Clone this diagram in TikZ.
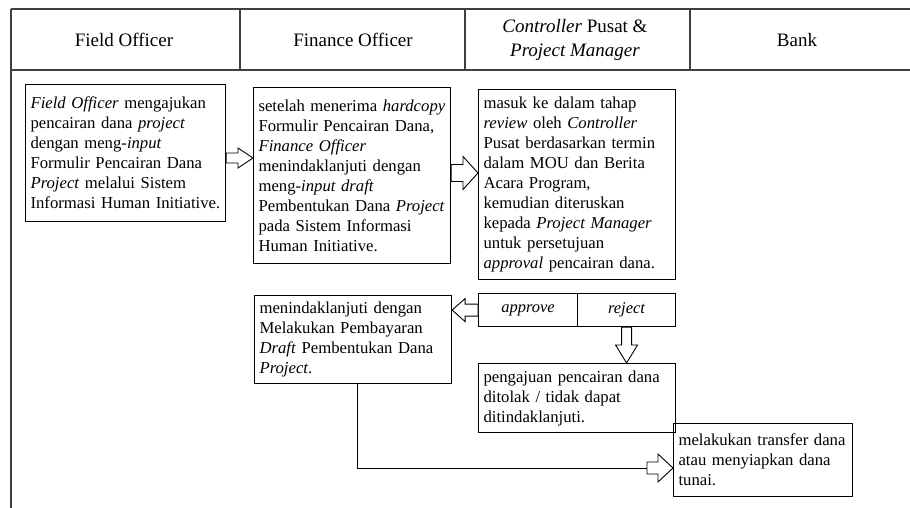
\documentclass[tikz,border=0pt]{standalone}
\usepackage{fontspec}
\setmainfont{Liberation Serif}
\usetikzlibrary{calc}

\tikzset{
	procbox/.style={draw, line width=1.1pt, anchor=north west, align=left, inner xsep=5pt, inner ysep=0pt, font=\fontsize{16.7}{20}\selectfont},
	choice/.style={draw, line width=1.1pt, anchor=north west, inner sep=0pt, minimum height=33pt, font=\fontsize{16.5}{20}\selectfont\itshape},
	lane/.style={line width=1.4pt, draw=black!75},
	heading/.style={align=center, font=\fontsize{19}{24}\selectfont},
	blockarrow/.style={draw, line width=0.9pt, fill=white},
	blockright/.style n args={3}{to path={let \p1=(\tikztostart), \p2=(\tikztotarget) in
		(\x1,\y1+#1) -- (\x2-#3,\y1+#1) -- (\x2-#3,\y1+#2) -- (\x2,\y1) -- (\x2-#3,\y1-#2) -- (\x2-#3,\y1-#1) -- (\x1,\y1-#1) -- cycle}},
	blockleft/.style n args={3}{to path={let \p1=(\tikztostart), \p2=(\tikztotarget) in
		(\x1,\y1+#1) -- (\x2+#3,\y1+#1) -- (\x2+#3,\y1+#2) -- (\x2,\y1) -- (\x2+#3,\y1-#2) -- (\x2+#3,\y1-#1) -- (\x1,\y1-#1) -- cycle}},
	blockdown/.style n args={3}{to path={let \p1=(\tikztostart), \p2=(\tikztotarget) in
		(\x1-#1,\y1) -- (\x1-#1,\y2+#3) -- (\x1-#2,\y2+#3) -- (\x1,\y2) -- (\x1+#2,\y2+#3) -- (\x1+#1,\y2+#3) -- (\x1+#1,\y1) -- cycle}}
}

\begin{document}
\begin{tikzpicture}[x=1pt, y=-1pt]
		\useasboundingbox (0,0) rectangle (910,508);

		\draw[lane] (11,9) -- (910,9);
		\draw[lane] (11,70) -- (910,70);
		\draw[lane] (11,9) -- (11,508);
		\draw[lane] (240,9) -- (240,70);
		\draw[lane] (465,9) -- (465,70);
		\draw[lane] (690,9) -- (690,70);

		\node[heading] (h1) at (124,40) {Field Officer};
		\node[heading] (h2) at (353,40) {Finance Officer};
		\node[heading] (h3) at (575,40) {\textit{Controller} Pusat \&\\ \textit{Project Manager}};
		\node[heading] (h4) at (797,40) {Bank};

		\node[procbox, text width=190pt, minimum height=137pt] (fo) at (25,84)
			{\textit{Field Officer} mengajukan\\ pencairan dana \textit{project}\\ dengan meng-\textit{input}\\ Formulir Pencairan Dana\\ \textit{Project} melalui Sistem\\ Informasi Human Initiative.};
		\node[procbox, text width=187pt, minimum height=176pt] (fin) at (253,87)
			{setelah menerima \textit{hardcopy}\\ Formulir Pencairan Dana,\\ \textit{Finance Officer}\\ menindaklanjuti dengan\\ meng-\textit{input draft}\\ Pembentukan Dana \textit{Project}\\ pada Sistem Informasi\\ Human Initiative.};
		\node[procbox, text width=187pt, minimum height=190pt] (ctrl) at (478,89)
			{masuk ke dalam tahap\\ \textit{review} oleh \textit{Controller}\\ Pusat berdasarkan termin\\ dalam MOU dan Berita\\ Acara Program,\\ kemudian diteruskan\\ kepada \textit{Project Manager}\\ untuk persetujuan\\ \textit{approval} pencairan dana.};

		\node[choice, minimum width=99pt] (approve) at (478,293) {approve};
		\node[choice, minimum width=98pt] (reject) at (577,293) {reject};

		\node[procbox, text width=187pt, minimum height=88pt] (pay) at (254,295)
			{menindaklanjuti dengan\\ Melakukan Pembayaran\\ \textit{Draft} Pembentukan Dana\\ \textit{Project}.};
		\node[procbox, text width=187pt, minimum height=69pt] (tolak) at (478,363)
			{pengajuan pencairan dana\\ ditolak / tidak dapat\\ ditindaklanjuti.};
		\node[procbox, text width=169pt, minimum height=73pt] (bank) at (673,423)
			{melakukan transfer dana\\ atau menyiapkan dana\\ tunai.};

		\draw[blockarrow] (fo.east |- 0,158) to[blockright={5pt}{10pt}{15pt}] (fin.west);
		\draw[blockarrow] (fin.east |- 0,173) to[blockright={8.5pt}{16.5pt}{15pt}] (ctrl.west);
		\draw[blockarrow] (approve.west) to[blockleft={6pt}{11.5pt}{13pt}] (pay.east);
		\draw[blockarrow] (reject.south) to[blockdown={5pt}{11pt}{18pt}] (tolak.north);

		\coordinate (tr) at (647,468);
		\draw[line width=0.9pt] (pay.south -| 357,0) |- (tr);
		\draw[blockarrow] (tr) to[blockright={6pt}{14pt}{15pt}] (bank.west);

	\end{tikzpicture}
\end{document}
